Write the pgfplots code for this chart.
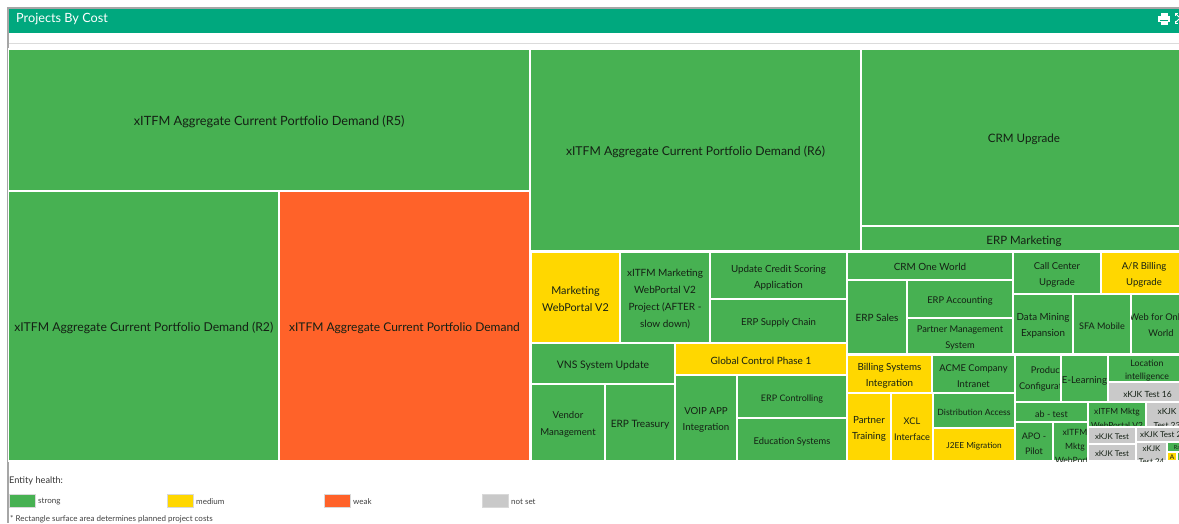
\documentclass[border=0pt]{standalone}
\usepackage{pgfplots}
\pgfplotsset{compat=1.18}
\usepackage{fontspec}
\setmainfont{Lato}
\definecolor{gr}{HTML}{47B152}
\definecolor{ye}{HTML}{FFD700}
\definecolor{or}{HTML}{FF6229}
\definecolor{ns}{HTML}{C9C9C9}
\definecolor{te}{HTML}{00A87E}
\definecolor{tx}{HTML}{142014}
% #1 size, #2 colour, #3 x0, #4 y0, #5 x1, #6 y1, #7 dy, #8 text
\newcommand{\R}[8][11]{%
  \addplot[fill=#2,draw=white,line width=1.5pt,forget plot] coordinates {(#3,#4)(#5,#4)(#5,#6)(#3,#6)} -- cycle;
  \begin{scope}
    \clip (axis cs:#3,#4) rectangle (axis cs:#5,#6);
    \node[inner sep=0pt,align=center,text=tx,font=\fontsize{#1}{16.5}\selectfont] at (axis cs:{(#3+#5)/2},{(#4+#6)/2+2+#7}) {#8};
  \end{scope}
}
% #7 cx, #8 cy: text centred at a given point, clipped to the rectangle
\newcommand{\RX}[9][11]{%
  \addplot[fill=#2,draw=white,line width=1.5pt,forget plot] coordinates {(#3,#4)(#5,#4)(#5,#6)(#3,#6)} -- cycle;
  \begin{scope}
    \clip (axis cs:#3,#4) rectangle (axis cs:#5,#6);
    \node[inner sep=0pt,align=center,text=tx,font=\fontsize{#1}{16.5}\selectfont] at (axis cs:#7,#8) {#9};
  \end{scope}
}
\newcommand{\Sw}[5]{%
  \addplot[fill=#1,draw=black!15,line width=0.5pt,forget plot] coordinates {(#2,494)(#3,494)(#3,507)(#2,507)} -- cycle;
  \node[anchor=west,inner sep=0pt,font=\fontsize{8}{9}\selectfont,text=black!75] at (axis cs:#4,501.5) {#5};
}
\begin{document}
\begin{tikzpicture}
\useasboundingbox (0,0) rectangle (1179pt,-523pt);
\begin{axis}[at={(0pt,-523pt)},anchor=south west,scale only axis,width=1179pt,height=523pt,
  xmin=0,xmax=1179,ymin=0,ymax=523,y dir=reverse,hide axis,clip=true]
% frame and header
\addplot[fill=te,draw=none,forget plot] coordinates {(9,9)(1187,9)(1187,32.5)(9,32.5)} -- cycle;
\addplot[fill=black!35,draw=none,forget plot] coordinates {(7,7)(1187,7)(1187,9)(7,9)} -- cycle;
\addplot[fill=black!35,draw=none,forget plot] coordinates {(7,7)(8.5,7)(8.5,523)(7,523)} -- cycle;
\addplot[fill=black!14,draw=none,forget plot] coordinates {(9,42.5)(1187,42.5)(1187,44)(9,44)} -- cycle;
\node[anchor=west,inner sep=0pt,text=white,font=\fontsize{12.7}{15}\selectfont] at (axis cs:16,19) {Projects By Cost};
% printer icon
\fill[white] (axis cs:1158,16) rectangle (axis cs:1170,22);
\fill[white] (axis cs:1160.5,12.5) rectangle (axis cs:1167.5,15.5);
\fill[white] (axis cs:1160.5,20) rectangle (axis cs:1167.5,24.5);
\draw[te,line width=0.6pt] (axis cs:1160,20) -- (axis cs:1168,20);
% expand icon
\draw[white,line width=1pt] (axis cs:1175,15.5) -- (axis cs:1175,13) -- (axis cs:1177.5,13);
\draw[white,line width=1pt] (axis cs:1175,20.5) -- (axis cs:1175,23) -- (axis cs:1177.5,23);
\draw[white,line width=1pt] (axis cs:1175.5,13.5) -- (axis cs:1179,17);
\draw[white,line width=1pt] (axis cs:1175.5,22.5) -- (axis cs:1179,19);
% treemap
\R[12.75]{gr}{8.5}{49}{530}{191}{0}{xITFM Aggregate Current Portfolio Demand (R5)}
\R[12.2]{gr}{8.5}{191}{279}{461}{0}{xITFM Aggregate Current Portfolio Demand (R2)}
\R[12]{or}{279}{191}{530}{461}{0}{xITFM Aggregate Current Portfolio Demand}
\R[12.2]{gr}{530}{49}{861}{251}{0}{xITFM Aggregate Current Portfolio Demand (R6)}
\R[11.6]{gr}{861}{49}{1187}{226}{0}{CRM Upgrade}
\R[11.5]{gr}{861}{226}{1187}{251}{1}{ERP Marketing}
\R[10.8]{ye}{531}{252}{620}{343}{0}{Marketing\\[0.5pt]WebPortal V2}
\R[10]{gr}{620}{252}{710}{343}{0}{xITFM Marketing\\[0.5pt]WebPortal V2\\[0.5pt]Project (AFTER -\\[0.5pt]slow down)}
\R[9.8]{gr}{710}{252}{847}{299}{0}{Update Credit Scoring\\[-0.5pt]Application}
\R[9.6]{gr}{710}{299}{847}{343}{0}{ERP Supply Chain}
\R[10.4]{gr}{531}{343}{675}{384}{0}{VNS System Update}
\R[10]{ye}{675}{343}{847}{375}{0}{Global Control Phase 1}
\R[9.6]{gr}{531}{384}{605}{461}{0}{Vendor\\Management}
\R[10.1]{gr}{605}{384}{675}{461}{0}{ERP Treasury}
\R[9.7]{gr}{675}{375}{737}{461}{0}{VOIP APP\\Integration}
\R[9]{gr}{737}{375}{847}{418}{0}{ERP Controlling}
\R[9.3]{gr}{737}{418}{847}{461}{0}{Education Systems}
\R[9.9]{gr}{847}{252}{1013}{280}{-1}{CRM One World}
\R[10]{gr}{847}{280}{907}{354}{-1}{ERP Sales}
\R[9.3]{gr}{907}{280}{1013}{318}{0}{ERP Accounting}
\R[9.3]{gr}{907}{318}{1013}{354}{0}{Partner Management\\System}
\R[9.5]{gr}{1013}{252}{1101}{294}{0}{Call Center\\Upgrade}
\R[9.5]{ye}{1101}{252}{1187}{294}{0}{A/R Billing\\Upgrade}
\R[9.8]{gr}{1013}{294}{1073}{354}{0}{Data Mining\\Expansion}
\R[9.1]{gr}{1073}{294}{1131}{354}{0}{SFA Mobile}
\RX[9.3]{gr}{1131}{294}{1187}{354}{1161}{325}{Web for Online\\World}
\R[9.8]{ye}{847}{355}{932}{393}{0}{Billing Systems\\Integration}
\R[9.4]{gr}{932}{355}{1015}{393}{0}{ACME Company\\Intranet}
\R[9.8]{ye}{847}{393}{891}{461}{0}{Partner\\Training}
\R[9.2]{ye}{891}{393}{933}{461}{0}{XCL\\Interface}
\R[8.6]{gr}{933}{393}{1015}{428}{0}{Distribution Access}
\R[8.3]{ye}{933}{428}{1015}{461}{0}{J2EE Migration}
\RX[9.3]{gr}{1015}{355}{1061}{402}{1047}{379}{Product\\Configuration}
\R[9.6]{gr}{1061}{355}{1108}{402}{0}{E-Learning}
\RX[8.8]{gr}{1108}{355}{1187}{382}{1147}{370.5}{Location\\[-3pt]intelligence}
\R[8.5]{ns}{1108}{382}{1187}{402}{0}{xKJK Test 16}
\R[9]{gr}{1015}{402}{1088}{422}{0}{ab - test}
\R[9]{gr}{1015}{422}{1053}{461}{0}{APO -\\[-1.5pt]Pilot}
\RX[8.6]{gr}{1053}{422}{1088}{461}{1075}{446}{xITFM\\[-2.5pt]Mktg\\[-2.5pt]WebPortal}
\RX[8.4]{gr}{1088}{402}{1146}{427}{1117}{418.5}{xITFM Mktg\\[-3pt]WebPortal V2}
\RX[8.4]{ns}{1146}{402}{1187}{427}{1167}{418.5}{xKJK\\[-3pt]Test 23}
\R[7.9]{ns}{1088}{427}{1136}{444}{-1}{xKJK Test}
\R[7.9]{ns}{1088}{444}{1136}{461}{-1}{xKJK Test}
\RX[8]{ns}{1136}{427}{1187}{442}{1163}{435}{xKJK Test 22}
\RX[7.9]{ns}{1136}{442}{1167}{461}{1151.5}{455}{xKJK\\[-3pt]Test 24}
\R[5.5]{gr}{1167}{442}{1187}{452}{-1.5}{Ra}
\R[6.5]{ye}{1167}{452}{1177}{461}{-1.5}{A}
\R[6]{gr}{1177}{452}{1187}{461}{0}{}
% legend
\node[anchor=west,inner sep=0pt,font=\fontsize{9.2}{11}\selectfont,text=black!80] at (axis cs:9,481) {Entity health:};
\Sw{gr}{9}{35}{38}{strong}
\Sw{ye}{167}{193}{196}{medium}
\Sw{or}{324}{350}{353}{weak}
\Sw{ns}{482}{508}{511}{not set}
\node[anchor=west,inner sep=0pt,font=\fontsize{8}{9}\selectfont,text=black!75] at (axis cs:10,519) {* Rectangle surface area determines planned project costs};
\end{axis}
\end{tikzpicture}
\end{document}
